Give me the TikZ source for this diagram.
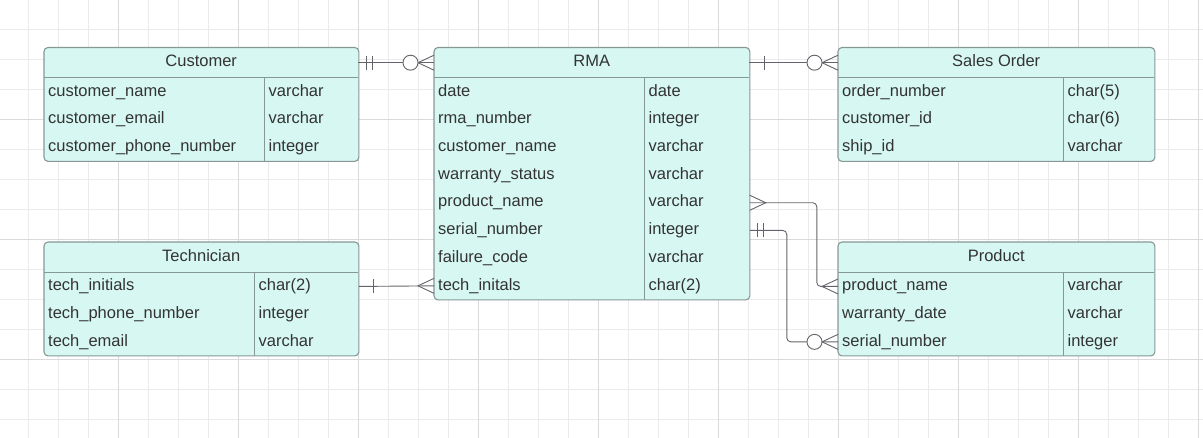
\documentclass[tikz,border=0pt]{standalone}
\usepackage{fontspec}
\setmainfont{Liberation Sans}
\usetikzlibrary{backgrounds}
\definecolor{mint}{RGB}{215,248,242}
\definecolor{edge}{RGB}{134,152,150}
\definecolor{ink}{RGB}{51,51,51}
\definecolor{wire}{RGB}{100,100,108}
\tikzset{
	erfont/.style={font=\fontsize{16.5}{20}\selectfont, text=ink},
	erhead/.style={erfont, minimum height=30pt, inner sep=0pt, text height=12pt, text depth=3.5pt},
	ercell/.style={erfont, minimum height=27.7pt, inner ysep=0pt, inner xsep=4pt, align=left, text height=12pt, text depth=3.5pt},
	erframe/.style={draw=edge, fill=mint, line width=1.1pt, rounded corners=4pt},
	erline/.style={draw=edge, line width=1.1pt},
	conn/.style={draw=wire, line width=0.9pt},
	gridminor/.style={draw={rgb,255:red,235;green,235;blue,235}, line width=0.9pt},
	gridmajor/.style={draw={rgb,255:red,218;green,218;blue,218}, line width=0.9pt},
	pics/one/.style={code={\draw[conn] (-15,-7) -- (-15,7);}},
	pics/only/.style={code={\draw[conn] (-8,-7) -- (-8,7) (-14,-7) -- (-14,7);}},
	pics/many/.style={code={\draw[conn] (0,-7.5) -- (-16,0) -- (0,7.5);}},
	pics/zmany/.style={code={
		\draw[conn] (0,-7.5) -- (-16,0) -- (0,7.5);
		\filldraw[conn, fill=white] (-23.5,0) circle[radius=7.5pt];}},
}
% table: name, top left, title, name column, type column, rows
\newcommand\ertable[6]{
	\pgfmathsetlengthmacro\wname{#4-8}
	\pgfmathsetlengthmacro\wtype{#5-8}
	\node[erhead, minimum width=#4pt+#5pt, anchor=north west] (#1-h) at (#2) {#3};
	\foreach \fname/\ftype [count=\i] in {#6} {
		\node[ercell, text width=\wname, anchor=north west] (#1-n\i) at ([yshift={-(\i-1)*27.7pt}]#1-h.south west) {\fname};
		\node[ercell, text width=\wtype, anchor=west] (#1-t\i) at (#1-n\i.east) {\ftype};
		\xdef\lastrow{\i}
	}
	\begin{scope}[on background layer]
		\filldraw[erframe] (#1-h.north west) rectangle (#1-t\lastrow.south east);
	\end{scope}
	\draw[erline] (#1-h.south west) -- (#1-h.south east)
		(#1-t1.north west) -- (#1-t\lastrow.south west);
}

\begin{document}
\begin{tikzpicture}[x=1pt,y=-1pt]
	\useasboundingbox (0,0) rectangle (1203,438);

	\begin{scope}[on background layer]
		\fill[white] (0,0) rectangle (1203,438);
		\draw[gridminor, xshift=-2pt, yshift=1pt, step=30pt] (-10,-10) grid (1215,450);
		\draw[gridmajor, xshift=-2pt, yshift=1pt, step=120pt] (-10,-10) grid (1215,450);
	\end{scope}

	\ertable{cust}{44,47.5}{Customer}{220}{94}{customer\_name/varchar, customer\_email/varchar, customer\_phone\_number/integer}
	\ertable{rma}{434,47.5}{RMA}{210}{105}{date/date, rma\_number/integer, customer\_name/varchar, warranty\_status/varchar, product\_name/varchar, serial\_number/integer, failure\_code/varchar, tech\_initals/char(2)}
	\ertable{so}{838,47.5}{Sales Order}{225}{91}{order\_number/char(5), customer\_id/char(6), ship\_id/varchar}
	\ertable{tech}{44,242}{Technician}{210}{104}{tech\_initials/char(2), tech\_phone\_number/integer, tech\_email/varchar}
	\ertable{prod}{838,242}{Product}{225}{91}{product\_name/varchar, warranty\_date/varchar, serial\_number/integer}

	% relations
	\draw[conn] (cust-h.east) -- (rma-h.west);
	\pic[xscale=-1] at (cust-h.east) {only};
	\pic at (rma-h.west) {zmany};

	\draw[conn] (rma-h.east) -- (so-h.west);
	\pic[xscale=-1] at (rma-h.east) {one};
	\pic at (so-h.west) {zmany};

	\draw[conn] (tech-t1.east) -- (rma-n8.west);
	\pic[xscale=-1] at (tech-t1.east) {one};
	\pic at (rma-n8.west) {many};

	\draw[conn, rounded corners=4pt] (rma-t5.east) -- ([xshift=67pt]rma-t5.east) |- (prod-n1.west);
	\pic[xscale=-1] at (rma-t5.east) {many};
	\pic at (prod-n1.west) {many};

	\draw[conn, rounded corners=4pt] (rma-t6.east) -- ([xshift=37pt]rma-t6.east) |- (prod-n3.west);
	\pic[xscale=-1] at (rma-t6.east) {only};
	\pic at (prod-n3.west) {zmany};
\end{tikzpicture}
\end{document}
